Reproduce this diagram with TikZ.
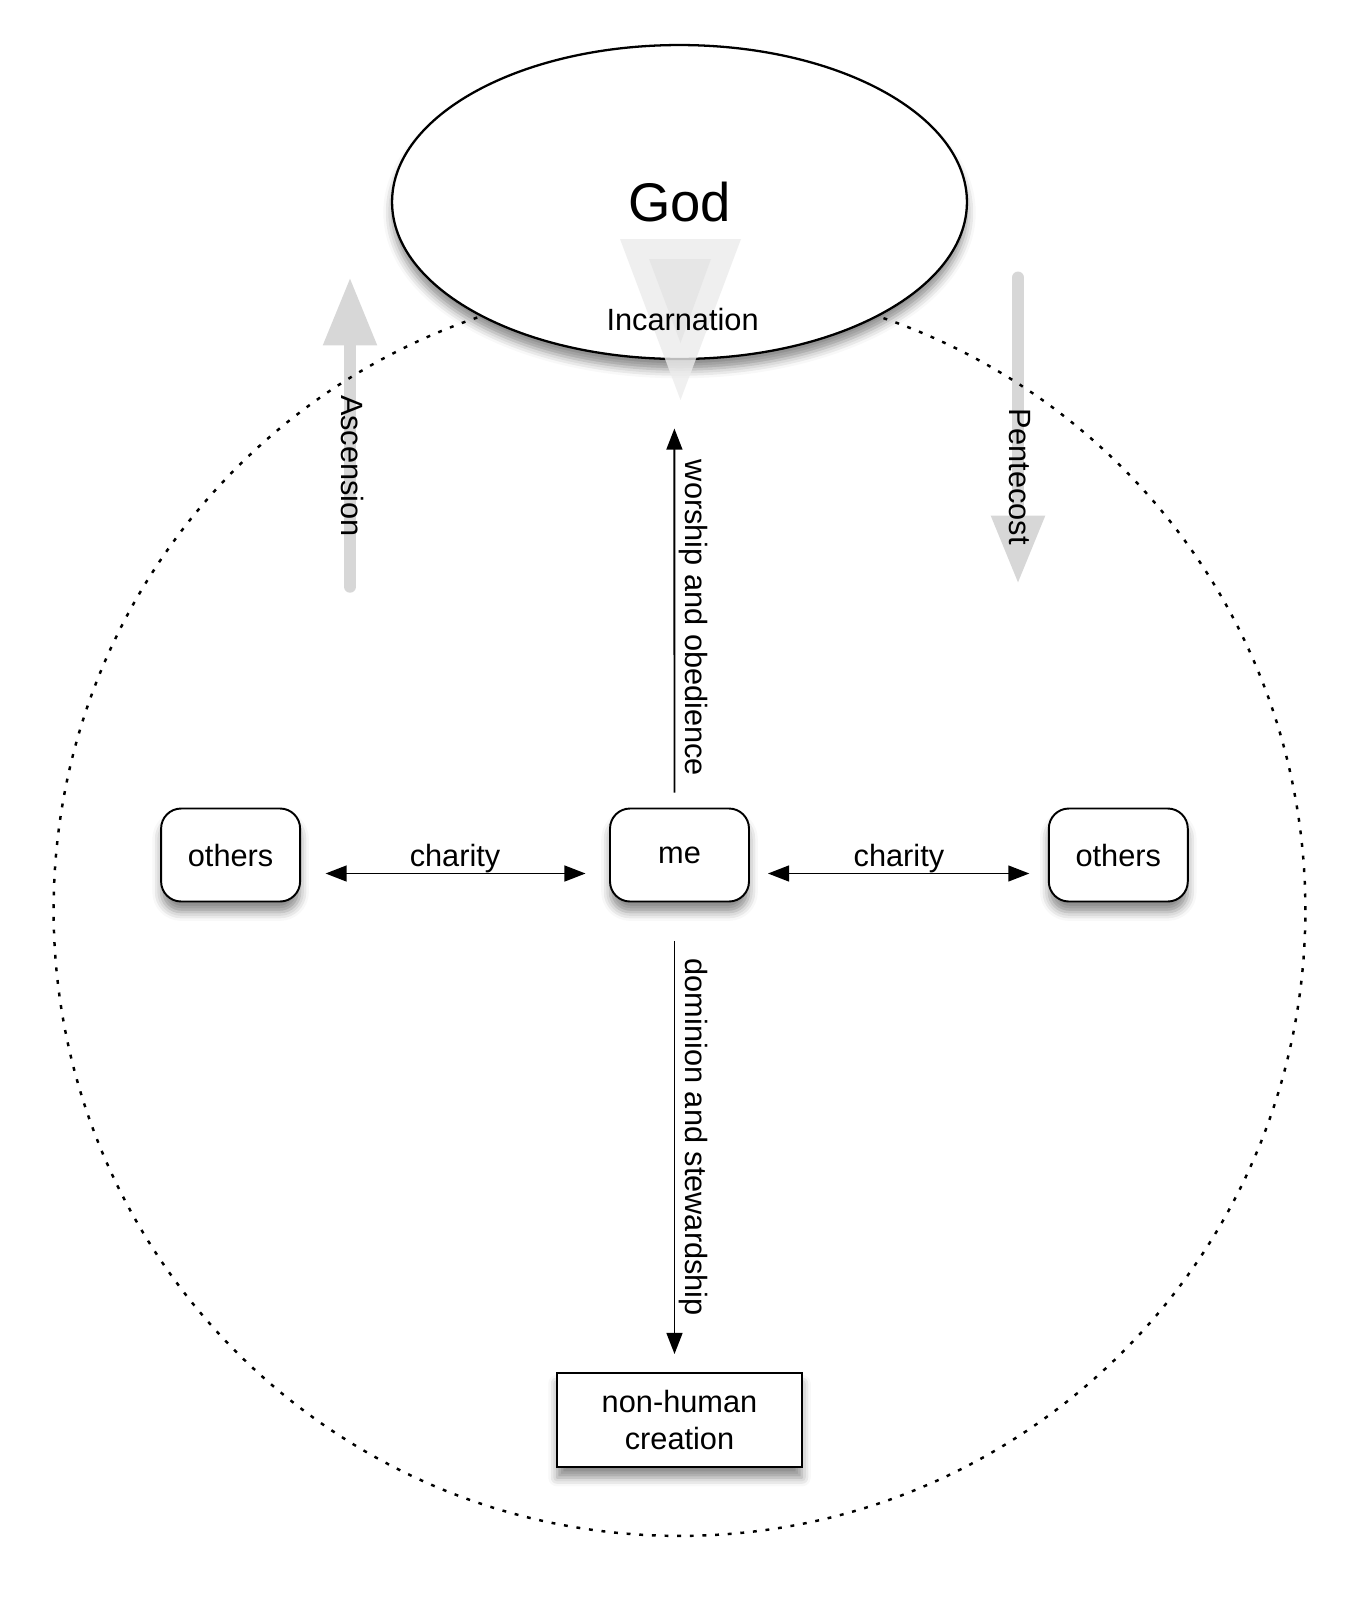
\documentclass[tikz,border=0pt]{standalone}
\usepackage{fontspec}
\setmainfont{Liberation Sans}
\usetikzlibrary{positioning,arrows.meta,shapes.geometric,shadows.blur}
\definecolor{liftgrey}{RGB}{215,215,215}

\begin{document}
\begin{tikzpicture}[
  x=0.02cm, y=-0.02cm,
  >={Triangle[length=12pt,width=9pt]},
  lbl/.style={font=\fontsize{17.5}{21}\selectfont, inner sep=2pt},
  soft/.style={blur shadow={shadow xshift=0pt, shadow yshift=-6pt, shadow blur radius=5pt, shadow opacity=45}},
  person/.style={draw, line width=1.1pt, rounded corners=0.4cm, fill=white, soft, lbl,
    minimum width=2.78cm, minimum height=1.86cm},
  thing/.style={draw, line width=1.1pt, fill=white, soft, lbl, align=center,
    minimum width=4.9cm, minimum height=1.88cm},
  lift/.style={liftgrey, line width=0.24cm, line cap=round, -{Triangle[length=1.36cm,width=1.02cm]}},
  link/.style={line width=1.1pt}
]
  \useasboundingbox (0,0) rectangle (1355,1600);

  \coordinate (asc tail) at (350,586.7);
  \coordinate (asc tip) at (350,277.5);
  \coordinate (pen tail) at (1018,277.5);
  \coordinate (pen tip) at (1018,583.6);
  \draw[lift] (asc tail) -- (asc tip);
  \draw[lift] (pen tail) -- (pen tip);

  \node[circle, draw, line width=1.4pt, dash pattern=on 2.2pt off 5pt,
    minimum size=25.04cm, inner sep=0pt] (world) at (679.5,910) {};

  \node[lbl, rotate=-90] (asc) at (352,466) {Ascension};
  \node[lbl, rotate=-90] (pen) at (1020,476.5) {Pentecost};

  \node[ellipse, draw, line width=1.3pt, fill=white, soft,
    minimum width=11.5cm, minimum height=6.28cm,
    font=\fontsize{31}{37}\selectfont] (god) at (679.5,202) {God};

  \fill[gray!15, opacity=0.8] (620,239) -- (741,239) -- (680.5,400) -- cycle;
  \fill[gray!25, opacity=0.5] (649,259) -- (711,259) -- (680.5,343) -- cycle;
  \node[lbl] (inc) at (682.6,319.4) {Incarnation};

  \node[person] (me) at (679.5,855) {me};
  \node[person] (othersL) at (230.6,855) {others};
  \node[person] (othersR) at (1118.3,855) {others};
  \node[thing] (creation) at (679.5,1420) {non-human\\creation};

  \coordinate (up) at (674.4,428.5);

  \path[link]
    ([yshift=-0.37cm]othersL.east) edge[<->, shorten <=0.49cm, shorten >=0.47cm]
      node[lbl, above=-2pt] {charity} ([yshift=-0.37cm]me.west)
    ([yshift=-0.37cm]me.east) edge[<->, shorten <=0.36cm, shorten >=0.37cm]
      node[lbl, above=-2pt] {charity} ([yshift=-0.37cm]othersR.west)
    ([xshift=-0.1cm]me.north) edge[->, shorten <=0.3cm]
      node[lbl, rotate=-90, anchor=south] {worship and obedience} (up)
    ([xshift=-0.1cm]me.south) edge[->, shorten <=0.77cm, shorten >=0.36cm]
      node[lbl, rotate=-90, anchor=south] {dominion and stewardship} ([xshift=-0.1cm]creation.north);
\end{tikzpicture}
\end{document}
